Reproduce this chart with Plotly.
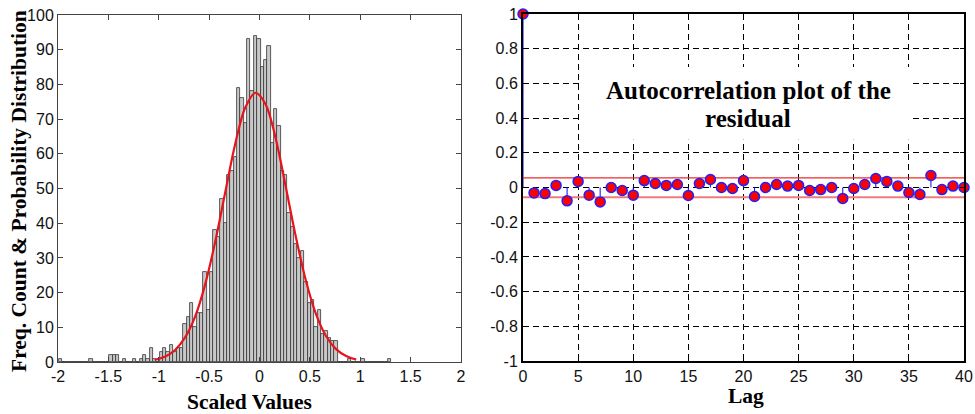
import plotly.graph_objects as go

# ---------------- data ----------------
# Histogram (left): bin counts, bins of width 1/30 starting at -1.99
hist_bin_start = -1.99
hist_bin_width = 1 / 30
hist_counts = [
    1, 0, 0, 0, 0, 0, 0, 0, 0, 1,
    0, 0, 0, 0, 0, 2, 2, 2, 0, 1,
    0, 0, 1, 0, 1, 2, 1, 4, 1, 0,
    3, 4, 3, 5, 3, 4, 4, 11, 13, 17,
    10, 14, 14, 26, 15, 26, 38, 36, 47, 40,
    54, 55, 59, 79, 76, 69, 93, 78, 94, 93,
    85, 87, 91, 63, 73, 68, 55, 54, 43, 39,
    34, 30, 32, 23, 17, 18, 10, 15, 8, 9,
    7, 6, 6, 0, 0, 0, 1, 0, 0, 0,
    1, 0, 0, 0, 0, 0, 0, 0, 1,
]
# fitted distribution curve
fit_x = [-1.04, -0.94, -0.84, -0.74, -0.64, -0.54, -0.44, -0.34, -0.24, -0.14, -0.04,
         0.06, 0.16, 0.26, 0.36, 0.46, 0.56, 0.66, 0.76, 0.86, 0.96]
fit_y = [0.6, 1.5, 3.4, 7.0, 13.0, 22.3, 34.6, 48.9, 63.0, 73.4, 77.6,
         74.3, 64.5, 50.6, 36.2, 23.5, 13.9, 7.5, 3.7, 1.7, 0.7]

# Autocorrelation (right)
lags = list(range(41))
acf = [1.0, -0.031, -0.035, 0.012, -0.077, 0.035, -0.044, -0.083, 0.0, -0.017,
       -0.044, 0.040, 0.023, 0.012, 0.017, -0.046, 0.023, 0.046, 0.0, -0.006,
       0.040, -0.052, 0.0, 0.017, 0.008, 0.012, -0.017, -0.012, 0.0, -0.063,
       -0.006, 0.017, 0.052, 0.035, 0.008, -0.029, -0.040, 0.069, -0.012, 0.008,
       0.0]
conf_bound = 0.056

hist_xticks = [-2, -1.5, -1, -0.5, 0, 0.5, 1, 1.5, 2]
hist_xticklabels = ["-2", "-1.5", "-1", "-0.5", "0", "0.5", "1", "1.5", "2"]
acf_yticks = [1, 0.8, 0.6, 0.4, 0.2, 0, -0.2, -0.4, -0.6, -0.8, -1]
acf_yticklabels = ["1", "0.8", "0.6", "0.4", "0.2", "0", "-0.2", "-0.4", "-0.6", "-0.8", "-1"]

# ---------------- figure ----------------
W, H = 975, 414
SANS = "Liberation Sans, Arial, sans-serif"
SERIF = "Liberation Serif, Times New Roman, serif"

centers = [hist_bin_start + (i + 0.5) * hist_bin_width for i in range(len(hist_counts))]

fig = go.Figure()

fig.add_trace(go.Bar(
    x=centers, y=hist_counts, width=hist_bin_width,
    marker=dict(color="#c8c8c8", line=dict(color="#333333", width=0.8)),
    xaxis="x", yaxis="y", showlegend=False,
))
fig.add_trace(go.Scatter(
    x=fit_x, y=fit_y, mode="lines", line=dict(color="#e8141c", width=2.2, shape="spline"),
    xaxis="x", yaxis="y", showlegend=False,
))

# stems
sx, sy = [], []
for l, v in zip(lags, acf):
    sx += [l, l, None]
    sy += [0, v, None]
fig.add_trace(go.Scatter(
    x=sx, y=sy, mode="lines", line=dict(color="#1a1aff", width=1.1),
    xaxis="x2", yaxis="y2", showlegend=False, cliponaxis=False,
))
# confidence bounds
fig.add_trace(go.Scatter(
    x=[lags[0], lags[-1]], y=[conf_bound, conf_bound], mode="lines",
    line=dict(color="#ee2a2a", width=1.3), xaxis="x2", yaxis="y2", showlegend=False,
))
fig.add_trace(go.Scatter(
    x=[lags[0], lags[-1]], y=[-conf_bound, -conf_bound], mode="lines",
    line=dict(color="#f27a7a", width=2), xaxis="x2", yaxis="y2", showlegend=False,
))
fig.add_trace(go.Scatter(
    x=lags, y=acf, mode="markers",
    marker=dict(color="#ff0000", size=10, line=dict(color="#2020ff", width=1.5)),
    xaxis="x2", yaxis="y2", showlegend=False, cliponaxis=False,
))

def px_x(p):
    return p / W

def px_y(p):
    return 1 - p / H

tick_font = dict(family=SANS, size=16, color="#111111")

fig.update_layout(
    width=W, height=H,
    margin=dict(l=0, r=0, t=0, b=0, autoexpand=False),
    paper_bgcolor="white", plot_bgcolor="white",
    bargap=0,
    xaxis=dict(
        domain=[px_x(58), px_x(461)], range=[-2, 2],
        tickvals=hist_xticks, ticktext=hist_xticklabels,
        ticks="inside", ticklen=5, tickcolor="#444",
        showline=True, linecolor="#444", linewidth=1, mirror="ticks",
        showgrid=False, zeroline=False, tickfont=tick_font, automargin=False,
    ),
    yaxis=dict(
        domain=[px_y(362), px_y(15)], range=[0, 100],
        tickvals=list(range(0, 101, 10)),
        ticks="inside", ticklen=5, tickcolor="#444",
        showline=True, linecolor="#444", linewidth=1, mirror="ticks",
        showgrid=False, zeroline=False, tickfont=tick_font, automargin=False,
    ),
    xaxis2=dict(
        domain=[px_x(523), px_x(964)], range=[0, 40], anchor="y2",
        tickvals=list(range(0, 41, 5)),
        ticks="inside", ticklen=4, tickcolor="black",
        showline=True, linecolor="black", linewidth=2, mirror="ticks",
        showgrid=True, gridcolor="black", gridwidth=1, griddash="6px,4px",
        zeroline=False, tickfont=tick_font, automargin=False,
    ),
    yaxis2=dict(
        domain=[px_y(361), px_y(14)], range=[-1, 1], anchor="x2",
        tickvals=acf_yticks, ticktext=acf_yticklabels,
        ticks="inside", ticklen=4, tickcolor="black",
        showline=True, linecolor="black", linewidth=2, mirror="ticks",
        showgrid=True, gridcolor="black", gridwidth=1, griddash="6px,4px",
        zeroline=False, tickfont=tick_font, automargin=False,
    ),
)

# white box behind the in-plot title
fig.add_shape(type="rect", xref="x2", yref="y2", x0=5.08, x1=35.1, y0=0.275, y1=0.695,
              fillcolor="white", line=dict(width=0), layer="between")

title_font = dict(family=SERIF, size=25, color="black")
label_font = dict(family=SERIF, size=21.5, color="black")
annotations = [
    dict(text="<b>Autocorrelation plot of the</b>", xref="x2", yref="y2",
         x=20.45, y=0.56, showarrow=False, font=title_font,
         xanchor="center", yanchor="middle"),
    dict(text="<b>residual</b>", xref="x2", yref="y2",
         x=20.45, y=0.398, showarrow=False, font=title_font,
         xanchor="center", yanchor="middle"),
    dict(text="<b>Scaled Values</b>", xref="paper", yref="paper", x=px_x(250), y=px_y(402),
         showarrow=False, font=label_font, xanchor="center", yanchor="middle"),
    dict(text="<b>Lag</b>", xref="paper", yref="paper", x=px_x(746), y=px_y(396),
         showarrow=False, font=label_font, xanchor="center", yanchor="middle"),
    dict(text="<b>Freq. Count &amp; Probability Distribution</b>", xref="paper", yref="paper",
         x=px_x(19), y=px_y(191), textangle=-90, showarrow=False,
         font=label_font, xanchor="center", yanchor="middle"),
]
fig.update_layout(annotations=annotations)

fig.write_html(
    "out.html",
    config={"displayModeBar": False},
    post_script="document.body.style.margin='0';document.body.style.overflow='hidden';",
)
